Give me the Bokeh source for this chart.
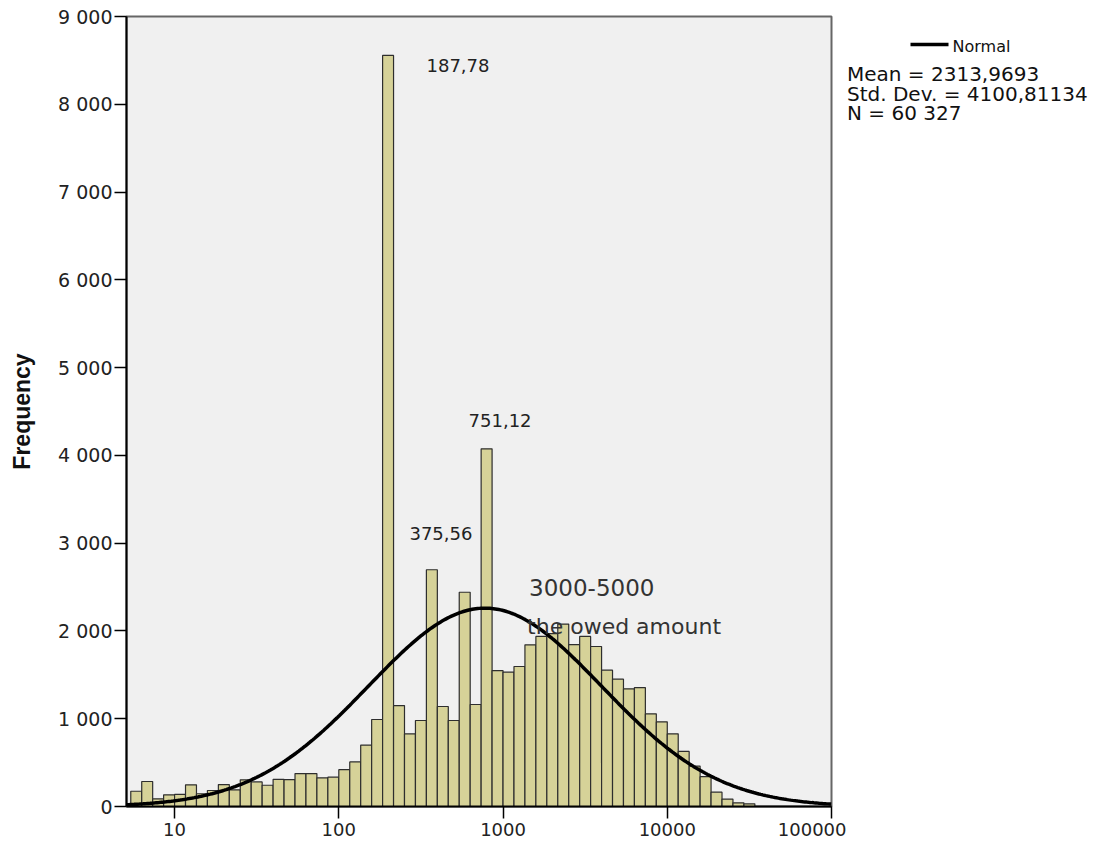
import numpy as np
from bokeh.plotting import figure
from bokeh.layouts import row
from bokeh.models import Label, FixedTicker, Range1d, ColumnDataSource
from bokeh.embed import file_html
from bokeh.resources import INLINE

# ---- data ----
bins_per_decade = 15          # histogram bins per decade (log scale)
first_bin = 11                # index of first bin: edges 10**(k/15)
counts = [174, 285, 88, 133, 137, 247, 145, 182, 250, 190,
          304, 280, 242, 310, 307, 375, 375, 327, 334, 420,
          508, 700, 991, 8556, 1150, 828, 980, 2697, 1139, 980,
          2441, 1162, 4075, 1549, 1530, 1595, 1842, 1937, 1970, 2078,
          1844, 1937, 1823, 1553, 1450, 1341, 1355, 1056, 965, 828,
          628, 460, 340, 163, 85, 42, 30]

# normal curve fitted on log10 scale (as drawn)
curve_mean_log = 2.89
curve_sd_log = 0.71
n_total = 60327

x_ticks = [10, 100, 1000, 10000, 100000]
x_tick_labels = ["10", "100", "1000", "10000", "100000"]
y_ticks = [0, 1000, 2000, 3000, 4000, 5000, 6000, 7000, 8000, 9000]
y_tick_labels = ["0", "1 000", "2 000", "3 000", "4 000", "5 000",
                 "6 000", "7 000", "8 000", "9 000"]

peak_labels = ["187,78", "375,56", "751,12"]
peak_label_x = [531.7, 418.8, 958.9]
peak_label_y = [8442, 3110, 4397]

legend_label = "Normal"
stats_lines = ["Mean = 2313,9693", "Std. Dev. = 4100,81134", "N = 60 327"]

# ---- derived ----
ks = np.arange(first_bin, first_bin + len(counts))
left = 10 ** (ks / bins_per_decade)
right = 10 ** ((ks + 1) / bins_per_decade)
src = ColumnDataSource(dict(left=left, right=right, top=counts))

lx = np.linspace(0.70, 5.0, 400)
amp = n_total / bins_per_decade / (curve_sd_log * np.sqrt(2 * np.pi))
ly = amp * np.exp(-0.5 * ((lx - curve_mean_log) / curve_sd_log) ** 2)

FONT = "DejaVu Sans"
TXT = "#222222"

SPLIT = 846   # page column where the right-hand text panel starts

p = figure(width=SPLIT, height=845, x_axis_type="log",
           x_range=Range1d(10 ** 0.7073, 1e5), y_range=Range1d(0, 9000),
           output_backend="svg", toolbar_location=None,
           min_border_left=126, min_border_right=SPLIT - 831,
           min_border_top=16, min_border_bottom=39)

p.background_fill_color = "#f0f0f0"
p.border_fill_color = "white"
p.outline_line_color = "#666666"
p.outline_line_width = 2
p.grid.visible = False

p.quad(left="left", right="right", top="top", bottom=0, source=src,
       fill_color="#d6d298", line_color="#2e2e2e", line_width=1.2)

p.line(10 ** lx, ly, line_color="black", line_width=3.5)

# axes
xa = p.xaxis[0]
xa.ticker = FixedTicker(ticks=x_ticks)
xa.major_label_overrides = {t: l for t, l in zip(x_ticks, x_tick_labels)}
xa.minor_tick_line_color = None
xa.major_tick_out = 12
xa.major_tick_in = 0
xa.major_label_standoff = 4
xa.axis_line_color = "black"
xa.axis_line_width = 2
xa.major_tick_line_width = 1.5
xa.major_label_text_font = FONT
xa.major_label_text_font_size = "18px"
xa.major_label_text_color = TXT

ya = p.yaxis[0]
ya.ticker = FixedTicker(ticks=y_ticks)
ya.major_label_overrides = {t: l for t, l in zip(y_ticks, y_tick_labels)}
ya.minor_tick_line_color = None
ya.major_tick_out = 12
ya.major_tick_in = 0
ya.major_label_standoff = 2
ya.axis_line_color = "black"
ya.axis_line_width = 2
ya.major_tick_line_width = 1.5
ya.major_label_text_font = FONT
ya.major_label_text_font_size = "19px"
ya.major_label_text_color = TXT
ya.axis_label = "Frequency"
ya.axis_label_text_font = "Liberation Sans"
ya.axis_label_text_font_style = "bold"
ya.axis_label_text_font_size = "23px"
ya.axis_label_text_color = "#111111"
ya.axis_label_standoff = 20

for t, x, y in zip(peak_labels, peak_label_x, peak_label_y):
    p.add_layout(Label(x=x, y=y, text=t, text_font=FONT, text_font_size="18px",
                       text_color=TXT, text_align="center", text_baseline="middle"))

p.add_layout(Label(x=1440.6, y=2495, text="3000-5000", text_font=FONT,
                   text_font_size="23px", text_color="#333333",
                   text_baseline="middle"))
p.add_layout(Label(x=1400.9, y=2050, text="the owed amount", text_font=FONT,
                   text_font_size="22px", text_color="#333333",
                   text_baseline="middle"))

# ---- right-hand panel: legend + statistics (page pixel coordinates) ----
# its frame is aligned with the main frame (rows 16..806 of the page)
q = figure(width=1093 - SPLIT, height=845, x_range=Range1d(SPLIT, 1093),
           y_range=Range1d(806, 16), output_backend="svg",
           toolbar_location=None, min_border=0,
           min_border_top=16, min_border_bottom=39)
q.axis.visible = False
q.grid.visible = False
q.outline_line_color = None
q.background_fill_color = "white"

q.line([910, 948], [44, 44], line_color="black", line_width=3.5)
q.add_layout(Label(x=952, y=46, text=legend_label, text_font=FONT,
                   text_font_size="16px", text_color="#111111",
                   text_baseline="middle"))
stat_y = [73, 93, 112]
for t, y in zip(stats_lines, stat_y):
    q.add_layout(Label(x=SPLIT + 0.5, y=y, text=t, text_font=FONT,
                       text_font_size="20px", text_color="#111111",
                       text_baseline="middle"))

layout = row(p, q, spacing=0)
open("out.html", "w").write(file_html(layout, INLINE))
